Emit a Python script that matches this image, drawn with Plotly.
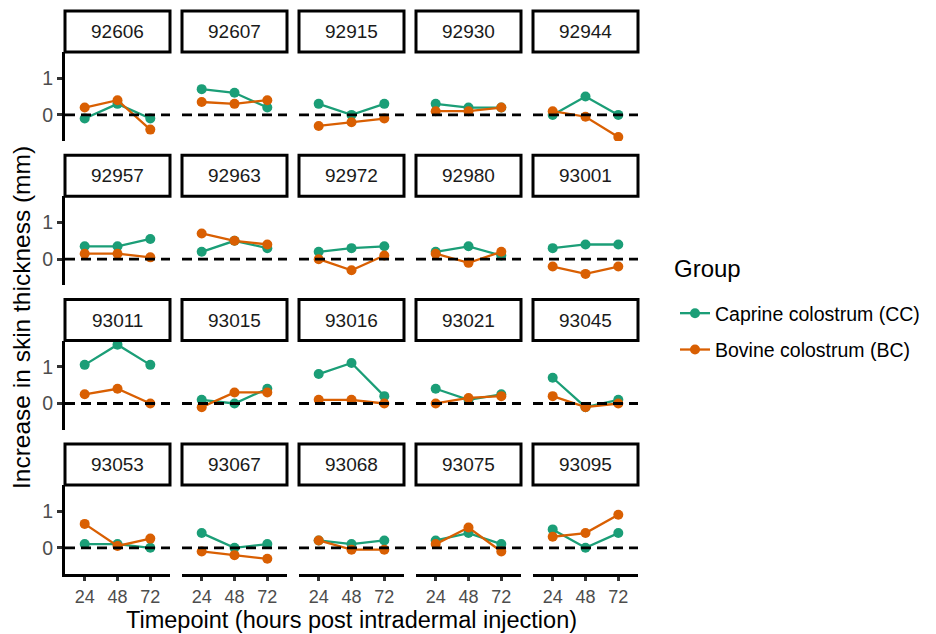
import plotly.graph_objects as go

# Animals (facets), timepoints and skin-thickness increase (mm) per group
animals = ["92606", "92607", "92915", "92930", "92944",
           "92957", "92963", "92972", "92980", "93001",
           "93011", "93015", "93016", "93021", "93045",
           "93053", "93067", "93068", "93075", "93095"]
timepoints = ["24", "48", "72"]

cc_values = [
    [-0.1, 0.3, -0.1], [0.7, 0.6, 0.2], [0.3, 0.0, 0.3], [0.3, 0.2, 0.2], [0.0, 0.5, 0.0],
    [0.35, 0.35, 0.55], [0.2, 0.5, 0.3], [0.2, 0.3, 0.35], [0.2, 0.35, 0.1], [0.3, 0.4, 0.4],
    [1.05, 1.6, 1.05], [0.1, 0.0, 0.4], [0.8, 1.1, 0.2], [0.4, 0.1, 0.25], [0.7, -0.1, 0.1],
    [0.1, 0.1, 0.0], [0.4, 0.0, 0.1], [0.2, 0.1, 0.2], [0.2, 0.4, 0.1], [0.5, 0.0, 0.4],
]
bc_values = [
    [0.2, 0.4, -0.4], [0.35, 0.3, 0.4], [-0.3, -0.2, -0.1], [0.1, 0.1, 0.2], [0.1, -0.05, -0.6],
    [0.15, 0.15, 0.05], [0.7, 0.5, 0.4], [0.0, -0.3, 0.1], [0.15, -0.1, 0.2], [-0.2, -0.4, -0.2],
    [0.25, 0.4, 0.0], [-0.1, 0.3, 0.3], [0.1, 0.1, 0.0], [0.0, 0.15, 0.2], [0.2, -0.1, 0.0],
    [0.65, 0.05, 0.25], [-0.1, -0.2, -0.3], [0.2, -0.05, -0.05], [0.1, 0.55, -0.1], [0.3, 0.4, 0.9],
]
group_names = ["Caprine colostrum (CC)", "Bovine colostrum (BC)"]
group_colors = ["#1B9E77", "#D95F02"]

W, H = 936, 634
FONT = "Liberation Sans, Arial, sans-serif"

# facet grid geometry (pixels)
n_cols = 5
panel_left0, panel_w, col_pitch = 65, 105, 117
panel_top0, panel_h, row_pitch = 52, 89, 144.3
strip_h = 41


def px_x(v):
    return v / W


def px_y(v):
    return 1 - v / H


fig = go.Figure()
layout_axes = {}
shapes = []
annotations = []

for i, animal in enumerate(animals):
    r, c = divmod(i, n_cols)
    x0 = panel_left0 + c * col_pitch
    x1 = x0 + panel_w
    y0 = panel_top0 + r * row_pitch
    y1 = y0 + panel_h
    k = "" if i == 0 else str(i + 1)
    xa, ya = "x" + k, "y" + k

    for g, (vals, name, color) in enumerate(zip([cc_values, bc_values], group_names, group_colors)):
        fig.add_trace(go.Scatter(
            x=timepoints, y=vals[i], xaxis=xa, yaxis=ya,
            mode="lines+markers", name=name,
            line=dict(color=color, width=2.3),
            marker=dict(color=color, size=10),
            legendgroup=name, showlegend=(i == 0),
        ))

    bottom_row = r == 3
    left_col = c == 0
    layout_axes["xaxis" + k] = dict(
        domain=[px_x(x0), px_x(x1)], anchor=ya,
        type="category", categoryarray=timepoints, range=[-0.6, 2.6],
        showgrid=False, zeroline=False,
        showline=bottom_row, linecolor="black", linewidth=3,
        ticks="outside" if bottom_row else "", ticklen=4, tickwidth=3, tickcolor="#333333",
        showticklabels=bottom_row,
        tickfont=dict(family=FONT, size=18, color="#4D4D4D"),
    )
    layout_axes["yaxis" + k] = dict(
        domain=[px_y(y1), px_y(y0)], anchor=xa,
        range=[-0.71, 1.71], tickvals=[0, 1],
        showgrid=False, zeroline=False,
        showline=left_col, linecolor="black", linewidth=3,
        ticks="outside" if left_col else "", ticklen=5, tickwidth=3, tickcolor="#333333",
        showticklabels=left_col,
        tickfont=dict(family=FONT, size=19.5, color="#4D4D4D"),
    )

    # reference line at zero
    shapes.append(dict(
        type="line", xref=xa + " domain", yref=ya, x0=0, x1=1, y0=0, y1=0,
        line=dict(color="black", width=2.8, dash="10px,6px"), layer="above",
    ))
    # facet strip
    shapes.append(dict(
        type="rect", xref="paper", yref="paper",
        x0=px_x(x0), x1=px_x(x1), y0=px_y(y0), y1=px_y(y0 - strip_h),
        line=dict(color="black", width=3), fillcolor="white",
    ))
    annotations.append(dict(
        text=animal, xref="paper", yref="paper",
        x=px_x((x0 + x1) / 2), y=px_y(y0 - strip_h / 2),
        showarrow=False, xanchor="center", yanchor="middle",
        font=dict(family=FONT, size=19, color="#1A1A1A"),
    ))

annotations.append(dict(
    text="Timepoint (hours post intradermal injection)", xref="paper", yref="paper",
    x=px_x(351), y=0, showarrow=False, xanchor="center", yanchor="bottom",
    borderpad=0, font=dict(family=FONT, size=23.5, color="black"),
))
annotations.append(dict(
    text="Increase in skin thickness (mm)", xref="paper", yref="paper",
    x=px_x(21), y=px_y(318), showarrow=False, xanchor="center", yanchor="middle",
    textangle=-90, font=dict(family=FONT, size=24.5, color="black"),
))
# legend title
annotations.append(dict(
    text="Group", xref="paper", yref="paper",
    x=px_x(672), y=px_y(268), showarrow=False, xanchor="left", yanchor="middle",
    font=dict(family=FONT, size=24, color="black"),
))

fig.update_layout(
    width=W, height=H,
    margin=dict(l=0, r=0, t=0, b=0),
    paper_bgcolor="white", plot_bgcolor="white",
    font=dict(family=FONT),
    shapes=shapes, annotations=annotations,
    showlegend=True,
    legend=dict(
        font=dict(family=FONT, size=19.5, color="black"),
        x=px_x(675), y=px_y(294), xanchor="left", yanchor="top",
        tracegroupgap=8, bgcolor="rgba(0,0,0,0)",
    ),
    **layout_axes,
)

fig.write_html("out.html")
